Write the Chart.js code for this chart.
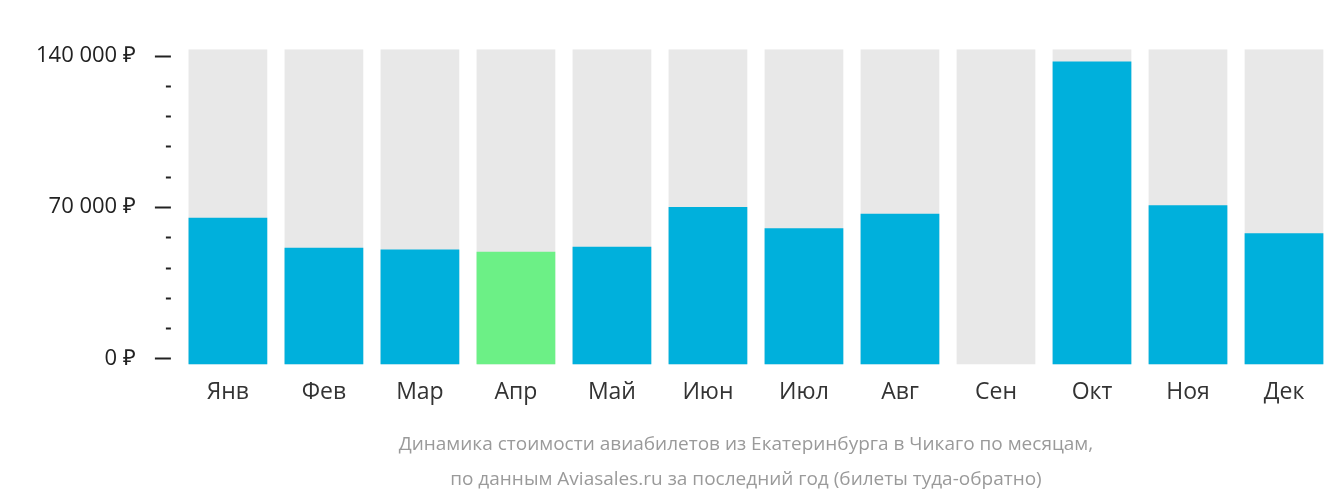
<!DOCTYPE html>
<html>
<head>
<meta charset="utf-8">
<script src="https://cdn.jsdelivr.net/npm/chart.js@4"></script>
<style>
  html, body { margin: 0; padding: 0; background: #fff; }
  #wrap { width: 1332px; height: 502px; }
</style>
</head>
<body>
<div id="wrap"><canvas id="c"></canvas></div>
<script>
const months = ["Янв", "Фев", "Мар", "Апр", "Май", "Июн", "Июл", "Авг", "Сен", "Окт", "Ноя", "Дек"];
const prices = [65000, 51200, 50400, 49300, 51600, 70000, 60200, 66900, null, 137300, 70800, 57900];
const highlight = 3;
const yLabels = [0, 70000, 140000];
const titleLines = [
  "Динамика стоимости авиабилетов из Екатеринбурга в Чикаго по месяцам,",
  "по данным Aviasales.ru за последний год (билеты туда-обратно)",
];

const yMin = -2800;
const yMax = 143000;

const fmt = (v) => String(v).replace(/\B(?=(\d{3})+(?!\d))/g, " ") + " ₽";

const tickDashes = {
  id: "tickDashes",
  afterDraw(chart) {
    const { ctx, scales: { y }, chartArea } = chart;
    ctx.save();
    ctx.strokeStyle = "#222";
    ctx.lineWidth = 2;
    for (let v = 0; v <= 140000; v += 14000) {
      const py = Math.round(y.getPixelForValue(v)) + 0.5;
      const major = yLabels.includes(v);
      const x1 = chartArea.left - 9;
      const x0 = major ? x1 - 16 : x1 - 5;
      ctx.beginPath();
      ctx.moveTo(x0, py);
      ctx.lineTo(x1, py);
      ctx.stroke();
    }
    // caption under the chart
    ctx.fillStyle = "#9a9a9a";
    ctx.font = "19px 'Open Sans'";
    ctx.textAlign = "center";
    ctx.textBaseline = "middle";
    const cx = (chartArea.left + chartArea.right) / 2 - 10;
    titleLines.forEach((line, i) => ctx.fillText(line, cx, 445 + i * 35));
    ctx.restore();
  },
};

new Chart(document.getElementById("c"), {
  type: "bar",
  data: {
    labels: months,
    datasets: [
      {
        data: prices.map((v) => (v == null ? null : [yMin, v])),
        backgroundColor: prices.map((v, i) => (i === highlight ? "#6cf086" : "#00b0dc")),
        categoryPercentage: 0.82,
        barPercentage: 1,
        grouped: false,
        order: 0,
      },
      {
        data: months.map(() => [yMin, yMax]),
        backgroundColor: "#e8e8e8",
        categoryPercentage: 0.82,
        barPercentage: 1,
        grouped: false,
        order: 1,
      },
    ],
  },
  plugins: [tickDashes],
  options: {
    animation: false,
    responsive: true,
    maintainAspectRatio: false,
    layout: { padding: { top: 0, right: 0, left: 0, bottom: 90 } },
    plugins: {
      legend: { display: false },
      tooltip: { enabled: false },
      title: { display: false },
    },
    scales: {
      x: {
        grid: { display: false },
        border: { display: false },
        ticks: { color: "#333", font: { family: "'Open Sans'", size: 23 }, padding: 6 },
      },
      y: {
        min: yMin,
        max: yMax,
        afterBuildTicks(axis) {
          axis.ticks = yLabels.map((v) => ({ value: v }));
        },
        grid: { display: false },
        border: { display: false },
        ticks: {
          color: "#222",
          font: { family: "'Open Sans'", size: 22 },
          padding: 36,
          callback: (v) => fmt(v),
        },
      },
    },
  },
});
</script>
</body>
</html>
